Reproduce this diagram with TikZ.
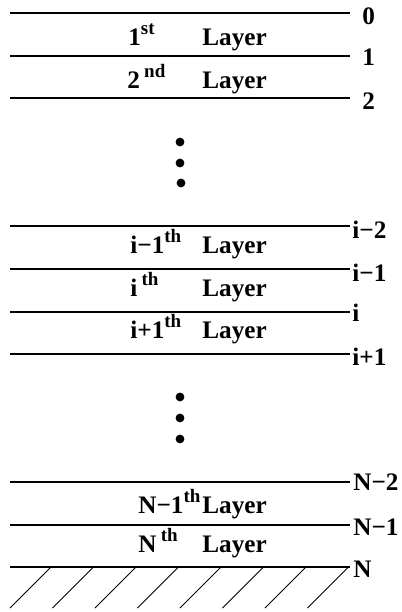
\documentclass[tikz,border=0pt]{standalone}
\usepackage{fontspec}
\setmainfont{Liberation Serif}[UprightFont=* Bold,BoldFont=* Bold]
\newcommand\ordsup[1]{\raisebox{0.42em}{\fontsize{9.5}{10}\selectfont #1}}
\begin{document}
\begin{tikzpicture}[x=0.5pt,y=-0.5pt,
  layerline/.style={line width=1.1pt},
  hatch/.style={line width=0.5pt},
  lbl/.style={anchor=base west,inner sep=0pt,font=\fontsize{12.6}{13}\selectfont},
  dotmark/.style={circle,fill=black,inner sep=0pt,minimum size=4.4pt}]
\useasboundingbox (0,0) rectangle (402,612);
% interface lines
\foreach \n/\y in {l0/13,l1/56,l2/98,li2/226,li1/269,li/312,lip/354,lN2/482,lN1/525,lN/567}{
  \coordinate (\n w) at (10,\y);
  \coordinate (\n e) at (350,\y);
  \draw[layerline] (\n w) -- (\n e);
}
% right labels
\node[lbl] (t0) at (362,24) {0};
\node[lbl] (t1) at (362,65) {1};
\node[lbl] (t2) at (362,109) {2};
\node[lbl] (ti2) at (352,238) {i−2};
\node[lbl] (ti1) at (352,281) {i−1};
\node[lbl] (ti) at (352,321) {i};
\node[lbl] (tip) at (352,365) {i+1};
\node[lbl] (tN2) at (353,490) {N−2};
\node[lbl] (tN1) at (353,535) {N−1};
\node[lbl] (tN) at (353,577) {N};
% layer labels
\node[lbl] (o1) at (128,45) {1\ordsup{st}};
\node[lbl] (y1) at (202,45) {Layer};
\node[lbl] (o2) at (127,88) {2\,\ordsup{nd}};
\node[lbl] (y2) at (202,88) {Layer};
\node[lbl] (oi1) at (130,253) {i−1\ordsup{th}};
\node[lbl] (yi1) at (202,253) {Layer};
\node[lbl] (oi) at (130,296) {i\,\ordsup{th}};
\node[lbl] (yi) at (202,296) {Layer};
\node[lbl] (oip) at (130,338) {i+1\ordsup{th}};
\node[lbl] (yip) at (202,338) {Layer};
\node[lbl] (oN1) at (138,513) {N−1\ordsup{th}};
\node[lbl] (yN1) at (202,513) {Layer};
\node[lbl] (oN) at (138,552) {N\,\ordsup{th}};
\node[lbl] (yN) at (202,552) {Layer};
% dots
\node[dotmark] (d1) at (180,142) {};
\node[dotmark] (d2) at (180,163) {};
\node[dotmark] (d3) at (181,183) {};
\node[dotmark] (d4) at (180,397) {};
\node[dotmark] (d5) at (180,418) {};
\node[dotmark] (d6) at (180,439) {};
% hatching
\foreach \k in {0,...,7}{
  \draw[hatch] ({10+42.5*\k},608) -- ({51+42.5*\k},567);
}
\end{tikzpicture}
\end{document}
